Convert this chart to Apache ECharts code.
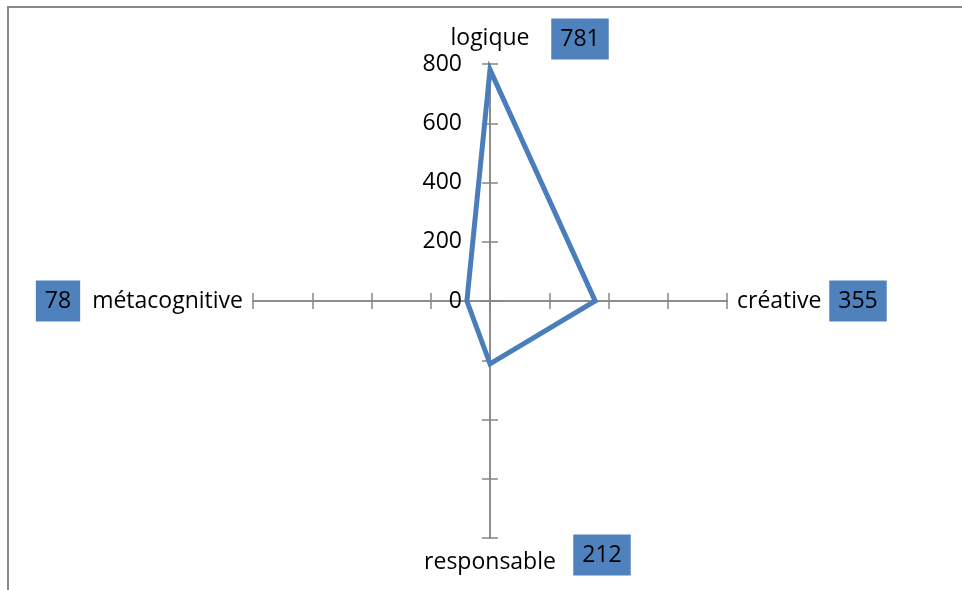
<!DOCTYPE html>
<html>
<head>
<meta charset="utf-8">
<script src="https://cdn.jsdelivr.net/npm/echarts@6/dist/echarts.min.js"></script>
<style>
  html, body { margin: 0; padding: 0; background: #fff; }
  #radar { width: 962px; height: 590px; }
</style>
</head>
<body>
<div id="radar"></div>
<script>
// données
const categories = ['logique', 'créative', 'responsable', 'métacognitive'];
const values = [781, 355, 212, 78];
const yTickLabels = [0, 200, 400, 600, 800];
const axisMax = 800;
// sens de chaque axe (haut, droite, bas, gauche)
const directions = [[0, 1], [1, 0], [0, -1], [-1, 0]];

const blue = '#4a7ebb';
const gray = '#868686';
const font = 'Open Sans';

const points = values.map((v, i) => [directions[i][0] * v, directions[i][1] * v]);
// on repasse par les 2 premiers points pour fermer le polygone avec des angles pointus
const polygon = points.concat([points[0], points[1]]);

const ends = directions.map(d => [d[0] * axisMax, d[1] * axisMax]);
const namePos = ['top', 'right', 'bottom', 'left'];
const nameDist = [14, 10, 13, 10];
const boxOffset = [[90, -25], [131, 0], [112, 17], [-195, 0]];

const half = 237; // demi-taille de la grille : les axes passent par le centre
const chart = echarts.init(document.getElementById('radar'));

function valueAxis(pos, inside, label) {
  return {
    type: 'value',
    position: pos,
    offset: -half,
    min: -axisMax,
    max: axisMax,
    interval: 200,
    axisLine: { show: true, onZero: false, lineStyle: { color: gray, width: 1.5 } },
    axisTick: { show: true, inside: inside, length: 8, lineStyle: { color: gray, width: 1.5 } },
    axisLabel: label || { show: false },
    splitLine: { show: false }
  };
}

const option = {
  animation: false,
  textStyle: { fontFamily: font },
  grid: { left: 253, top: 64, width: half * 2, height: half * 2, outerBoundsMode: 'none' },
  xAxis: [valueAxis('bottom', false), valueAxis('bottom', true)],
  yAxis: [
    valueAxis('left', false, {
      show: true,
      margin: 28,
      fontSize: 23,
      fontFamily: font,
      color: '#000',
      formatter: v => yTickLabels.indexOf(v) >= 0 ? String(v) : ''
    }),
    valueAxis('left', true)
  ],
  graphic: [{
    type: 'rect',
    shape: { x: 8, y: 7, width: 1200, height: 1200 },
    style: { fill: 'none', stroke: '#898989', lineWidth: 2 },
    silent: true
  }],
  series: [
    {
      type: 'line',
      data: polygon,
      showSymbol: false,
      symbol: 'none',
      clip: false,
      lineStyle: { color: blue, width: 5, join: 'miter', miterLimit: 20 },
      z: 3
    },
    {
      // noms des axes
      type: 'scatter',
      symbolSize: 0,
      silent: true,
      itemStyle: { opacity: 1 },
      data: ends.map((e, i) => ({
        value: e,
        label: {
          show: true,
          position: namePos[i],
          distance: nameDist[i],
          formatter: categories[i],
          fontSize: 23,
          fontFamily: font,
          color: '#000'
        }
      }))
    },
    {
      // étiquettes de valeurs
      type: 'scatter',
      symbolSize: 0,
      silent: true,
      itemStyle: { opacity: 1 },
      data: ends.map((e, i) => ({
        value: e,
        label: {
          show: true,
          position: 'inside',
          offset: boxOffset[i],
          formatter: String(values[i]),
          fontSize: 23,
          fontFamily: font,
          color: '#000',
          backgroundColor: '#4f81bd',
          padding: [8, 9, 8, 9],
          lineHeight: 25
        }
      }))
    }
  ]
};

chart.setOption(option);
</script>
</body>
</html>
